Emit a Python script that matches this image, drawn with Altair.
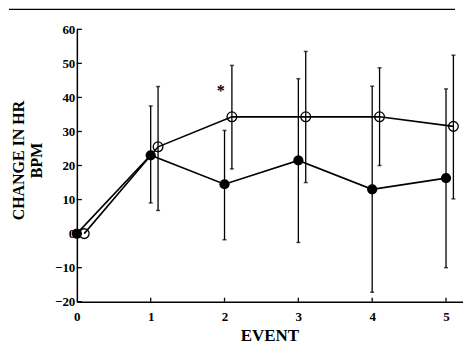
import altair as alt
import pandas as pd

events = [0, 1, 2, 3, 4, 5]
open_offset = 0.1
filled_mean = [0, 23, 14.5, 21.5, 13, 16.3]
filled_hi = [None, 37.5, 30.3, 45.5, 43.3, 42.5]
filled_lo = [None, 9, -1.8, -2.6, -17.2, -10]
open_mean = [0, 25.5, 34.3, 34.3, 34.3, 31.5]
open_hi = [None, 43.2, 49.4, 53.5, 48.7, 52.4]
open_lo = [None, 6.8, 19, 15, 20, 10.2]
y_ticks = [-20, -10, 0, 10, 20, 30, 40, 50, 60]
x_ticks = [0, 1, 2, 3, 4, 5]
star_x, star_y = [1.95], [42]

W, H = 387, 273
FONT = "Liberation Serif"

rows = []
for i, e in enumerate(events):
    rows.append({"series": "filled", "x": e, "mean": filled_mean[i], "hi": filled_hi[i], "lo": filled_lo[i]})
for i, e in enumerate(events):
    rows.append({"series": "open", "x": e + open_offset, "mean": open_mean[i], "hi": open_hi[i], "lo": open_lo[i]})
df = pd.DataFrame(rows)

xs = alt.Scale(domain=[0, 5.23], nice=False, zero=False)
ys = alt.Scale(domain=[-20, 60], nice=False, zero=False)

xaxis = alt.Axis(values=x_ticks, format="d", tickSize=0, labelPadding=9, grid=False,
                 labelOverlap=False, labelFlush=False,
                 domainColor="black", domainWidth=1.5, labelFont=FONT, labelFontSize=13,
                 labelFontWeight="bold", labelColor="black", title="EVENT", titleFont=FONT,
                 titleFontSize=17, titleFontWeight="bold", titleColor="black",
                 titleX=193, titleY=39, titleBaseline="alphabetic", titleAnchor="middle",
                 titleAlign="center")
yaxis = alt.Axis(values=y_ticks, format="d", tickSize=0, labelPadding=2, grid=False,
                 labelOverlap=False, labelFlush=False,
                 domainColor="black", domainWidth=1.5, labelFont=FONT, labelFontSize=13,
                 labelFontWeight="bold", labelColor="black",
                 title=["CHANGE IN HR", "BPM"], titleFont=FONT, titleFontSize=16,
                 titleFontWeight="bold", titleColor="black", titleLineHeight=18,
                 titleX=-66, titleY=131, titleAngle=-90, titleBaseline="top",
                 titleAlign="center")


def XQ(f):
    return alt.X(f, scale=xs, axis=xaxis)


def YQ(f):
    return alt.Y(f, scale=ys, axis=yaxis)


base = alt.Chart(df)

lines = base.mark_line(color="black", strokeWidth=1.6).encode(
    x=XQ("x:Q"), y=YQ("mean:Q"), detail="series:N")

eb = base.transform_filter("datum.hi != null")
errbars = eb.mark_rule(color="black", strokeWidth=1.3).encode(
    x=XQ("x:Q"), y=YQ("lo:Q"), y2="hi:Q")
caps_hi = eb.mark_tick(color="black", orient="horizontal", size=4, thickness=1.5).encode(
    x=XQ("x:Q"), y=YQ("hi:Q"))
caps_lo = eb.mark_tick(color="black", orient="horizontal", size=4, thickness=1.5).encode(
    x=XQ("x:Q"), y=YQ("lo:Q"))

filled_pts = base.transform_filter("datum.series == 'filled'").mark_point(
    shape="circle", filled=True, color="black", size=105, opacity=1).encode(
    x=XQ("x:Q"), y=YQ("mean:Q"))
open_pts = base.transform_filter("datum.series == 'open'").mark_point(
    shape="circle", filled=False, color="black", size=95, strokeWidth=1.3, opacity=1).encode(
    x=XQ("x:Q"), y=YQ("mean:Q"))

ytick_marks = alt.Chart(pd.DataFrame({"v": y_ticks})).mark_rule(color="black", strokeWidth=1.3).encode(
    y=YQ("v:Q"), x=alt.value(0), x2=alt.value(5))
xtick_marks = alt.Chart(pd.DataFrame({"v": x_ticks[1:]})).mark_rule(color="black", strokeWidth=1.3).encode(
    x=XQ("v:Q"), y=alt.value(H), y2=alt.value(H - 4))

star = alt.Chart(pd.DataFrame({"x": star_x, "y": star_y, "t": ["*"]})).mark_text(
    font=FONT, fontSize=16, fontWeight="bold", color="black").encode(
    x=XQ("x:Q"), y=YQ("y:Q"), text="t:N")

top_rule = alt.Chart(pd.DataFrame({"a": [0]})).mark_rule(color="black", strokeWidth=1.2).encode(
    x=alt.value(-68), x2=alt.value(379), y=alt.value(-20))

chart = alt.layer(lines, errbars, caps_hi, caps_lo, filled_pts, open_pts, ytick_marks,
                  xtick_marks, star, top_rule).properties(
    width=W, height=H, padding={"left": 0, "top": 0, "right": 0, "bottom": 0},
    background="white").configure_view(stroke=None)

chart.save("out.html", embed_options={"renderer": "svg", "actions": False})
